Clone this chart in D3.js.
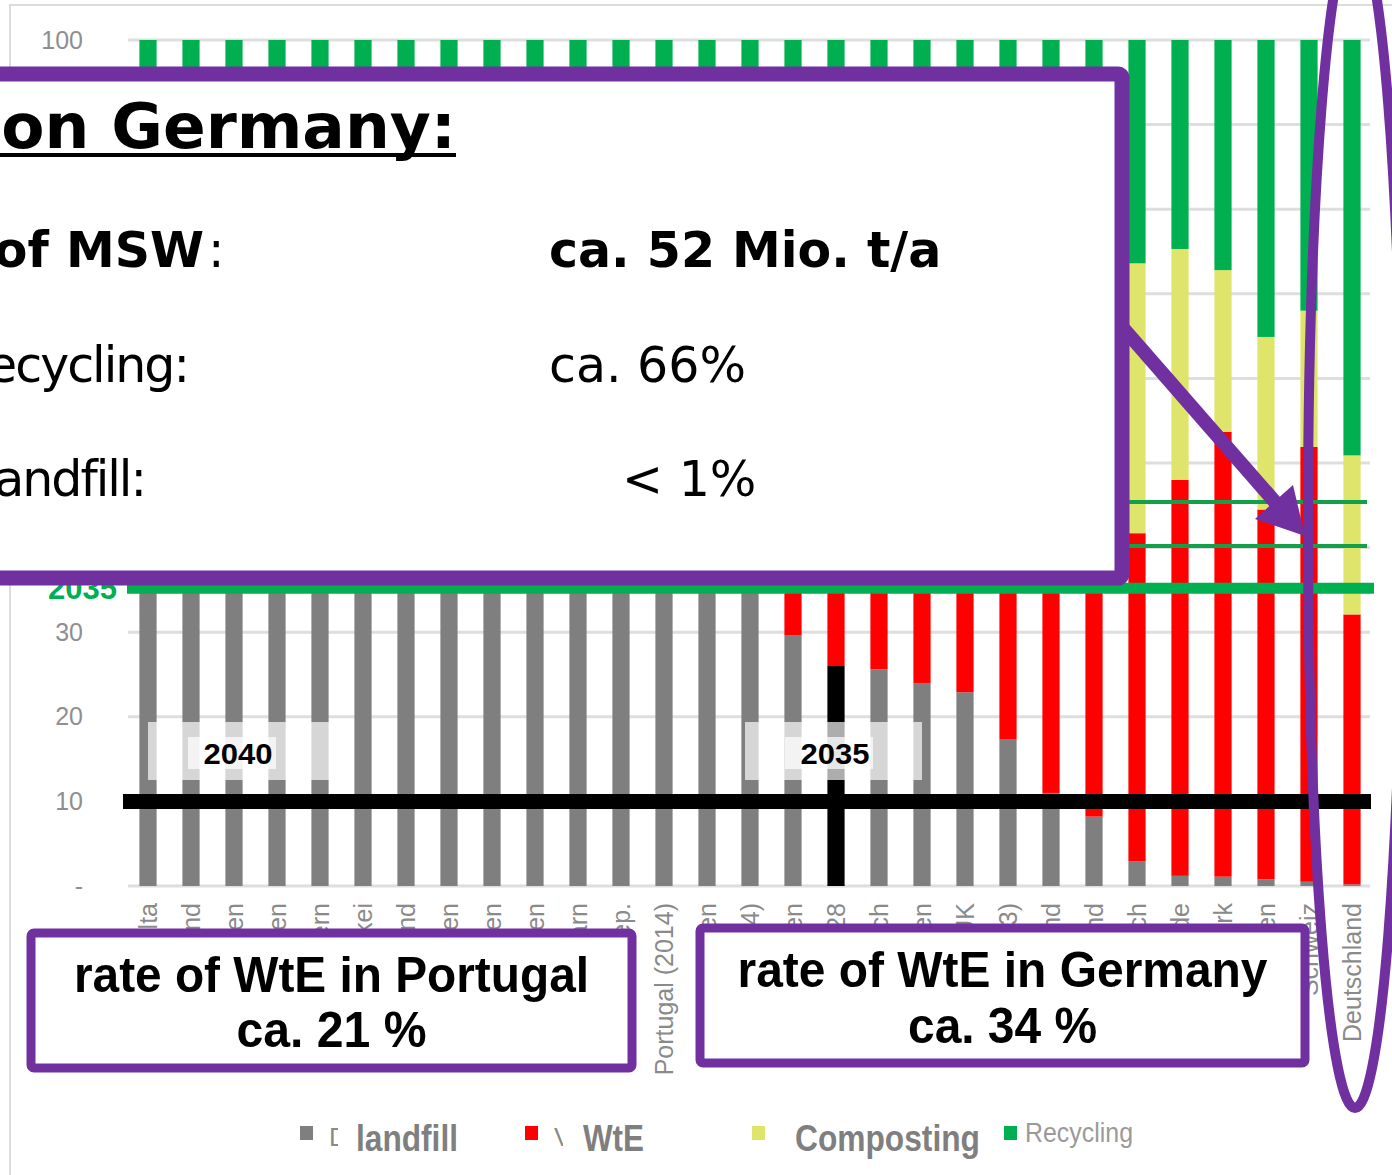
<!DOCTYPE html>
<html>
<head>
<meta charset="utf-8">
<script src="https://cdn.jsdelivr.net/npm/d3@7"></script>
<style>
  body { margin: 0; background: #fff; overflow: hidden; }
  svg { display: block; }
</style>
</head>
<body>
<script>
// treatment shares of municipal solid waste in %, bottom to top of each bar
const countries = ["Malta", "Griechenland", "Kroatien", "Rumänien", "Zypern", "Slowakei", "Lettland", "Bulgarien", "Spanien", "Litauen", "Ungarn", "Tschech. Rep.", "Portugal (2014)", "Polen", "Estland (2014)", "Italien", "EU-28", "Frankreich", "Slowenien", "UK", "Island (2013)", "Finnland", "Irland", "Österreich", "Niederlande", "Dänemark", "Schweden", "Schweiz", "Deutschland"];
const landfill   = [86, 82, 78, 77, 75, 66, 63, 62, 57, 52, 51, 50, 49, 44, 38, 29.6, 26, 25.6, 24, 22.9, 17.3, 11, 8.2, 2.9, 1.2, 1.1, 0.8, 0.5, 0.2];
const wte        = [0, 1, 0, 2, 0, 10, 0, 2, 12, 15, 13, 13, 21, 14, 30, 19, 27, 35, 20, 31, 45, 53, 45, 38.8, 46.8, 52.6, 43.7, 51.4, 31.9];
const composting = [5, 2, 3, 7, 8, 8, 7, 8, 17, 8, 7, 6, 14, 17, 5, 20, 16, 17, 18, 15, 7, 12, 10, 31.9, 27.3, 19.1, 20.4, 16.1, 18.8];
const recycling  = [9, 15, 19, 14, 17, 16, 30, 28, 14, 25, 29, 31, 16, 25, 27, 31.4, 31, 22.4, 38, 31.1, 30.7, 24, 36.8, 26.4, 24.7, 27.2, 35.1, 32, 49.1];

const yTicks = [0, 10, 20, 30, 40, 50, 60, 70, 80, 90, 100];
const targetLines = [35.2, 40.2, 45.4];   // green target lines
const limitLine = 10;                     // black 10 % landfill line
const legendLabels = ["landfill", "WtE", "Composting", "Recycling"];
const legendOriginal = ["Deponierung", "Verbrennung", "", ""];

const keys = ["landfill", "wte", "composting", "recycling"];
const colors = { landfill: "#7f7f7f", wte: "#ff0000", composting: "#dfe46b", recycling: "#00b050" };
const purple = "#7030a0";

const rows = countries.map((c, i) => ({
  country: c, landfill: landfill[i], wte: wte[i], composting: composting[i], recycling: recycling[i]
}));

const svg = d3.select("body").append("svg")
  .attr("width", 1392)
  .attr("height", 1175);

const x = d3.scaleBand().domain(countries).range([126.5, 1373.5]).paddingInner(0.6).paddingOuter(0.3);
const y = d3.scaleLinear().domain([0, 100]).range([886, 40]);

// outer frame of the chart
svg.append("path")
  .attr("d", "M10,1175V5H1392")
  .attr("fill", "none")
  .attr("stroke", "#dcdcdc")
  .attr("stroke-width", 2);

// gridlines
svg.append("g").selectAll("line")
  .data(yTicks)
  .join("line")
  .attr("x1", 128).attr("x2", 1370)
  .attr("y1", d => y(d)).attr("y2", d => y(d))
  .attr("stroke", "#dedede")
  .attr("stroke-width", 3);

// y axis labels
const yAxis = svg.append("g")
  .attr("transform", "translate(83,0)")
  .call(d3.axisLeft(y).tickValues(yTicks).tickSize(0).tickPadding(0)
    .tickFormat(d => d === 0 ? "-" : d));
yAxis.select(".domain").remove();
yAxis.selectAll("text")
  .attr("font-family", "Liberation Sans, Arial, sans-serif")
  .attr("font-size", 25)
  .attr("fill", "#8f8f8f");

// stacked bars
const series = d3.stack().keys(keys)(rows);
svg.append("g").selectAll("g")
  .data(series)
  .join("g")
  .each(function(s) {
    d3.select(this).selectAll("rect")
      .data(s)
      .join("rect")
      .attr("x", d => x(d.data.country))
      .attr("y", d => y(d[1]))
      .attr("width", x.bandwidth())
      .attr("height", d => y(d[0]) - y(d[1]))
      .attr("fill", d => (s.key === "landfill" && d.data.country === "EU-28") ? "#000" : colors[s.key]);
  });

// target lines
svg.append("g").selectAll("line")
  .data(targetLines)
  .join("line")
  .attr("x1", 127).attr("x2", (d, i) => i === 0 ? 1374 : 1367)
  .attr("y1", d => y(d)).attr("y2", d => y(d))
  .attr("stroke", (d, i) => i === 0 ? "#00b050" : "#12a04a")
  .attr("stroke-width", (d, i) => i === 0 ? 11 : 4);

svg.append("text")
  .attr("x", 117).attr("y", y(targetLines[0]) + 11)
  .attr("text-anchor", "end")
  .attr("font-family", "Liberation Sans, Arial, sans-serif")
  .attr("font-weight", "bold")
  .attr("font-size", 31)
  .attr("fill", "#00b050")
  .text("2035");

svg.append("line")
  .attr("x1", 123).attr("x2", 1371)
  .attr("y1", y(limitLine)).attr("y2", y(limitLine))
  .attr("stroke", "#000")
  .attr("stroke-width", 15);

// year labels on the 10 % line
const yearBoxes = [
  { label: "2040", x0: 148, x1: 330, tx: 238 },
  { label: "2035", x0: 745, x1: 922, tx: 835 }
];
yearBoxes.forEach(b => {
  svg.append("rect")
    .attr("x", b.x0).attr("y", 722)
    .attr("width", b.x1 - b.x0).attr("height", 58)
    .attr("fill", "#fff").attr("opacity", 0.68);
  svg.append("rect")
    .attr("x", b.tx - 50).attr("y", 737)
    .attr("width", 88).attr("height", 32)
    .attr("fill", "#fff").attr("opacity", 0.7);
  svg.append("text")
    .attr("x", b.tx).attr("y", 764)
    .attr("text-anchor", "middle")
    .attr("font-family", "Liberation Sans Narrow, Liberation Sans, Arial, sans-serif")
    .attr("font-weight", "bold")
    .attr("font-size", 30)
    .attr("textLength", 69)
    .attr("lengthAdjust", "spacingAndGlyphs")
    .attr("fill", "#000")
    .text(b.label);
});

// category labels
svg.append("g").selectAll("text")
  .data(countries)
  .join("text")
  .attr("transform", d => `translate(${x(d) + x.bandwidth() / 2},903) rotate(-90)`)
  .attr("dy", "0.35em")
  .attr("text-anchor", "end")
  .attr("font-family", "Liberation Sans, Arial, sans-serif")
  .attr("font-size", 25)
  .attr("fill", "#8a8a8a")
  .text(d => d);

// legend
const legendX = [300, 525, 752, 1004];
const legend = svg.append("g").selectAll("g")
  .data(keys)
  .join("g");
legend.append("rect")
  .attr("x", (d, i) => legendX[i]).attr("y", 1126)
  .attr("width", 13).attr("height", 14)
  .attr("fill", d => colors[d]);
legend.append("text")
  .attr("x", (d, i) => legendX[i] + 29).attr("y", 1146)
  .attr("font-family", "Liberation Sans, Arial, sans-serif")
  .attr("font-size", 26)
  .attr("fill", "#8a8a8a")
  .text((d, i) => legendOriginal[i]);
// replacement labels pasted over the original legend text
const newLabels = [
  { x: 338, w: 140, tx: 356, len: 102, size: 36, bold: true, base: 1151 },
  { x: 563, w: 170, tx: 583, len: 61, size: 36, bold: true, base: 1151 },
  { x: 778, w: 215, tx: 795, len: 185, size: 36, bold: true, base: 1151 },
  { x: 1022, w: 0, tx: 1025, len: 108, size: 27, bold: false, base: 1142 }
];
newLabels.forEach((l, i) => {
  if (l.w) svg.append("rect").attr("x", l.x).attr("y", 1110).attr("width", l.w).attr("height", 50).attr("fill", "#fff");
  svg.append("text")
    .attr("x", l.tx).attr("y", l.base)
    .attr("font-family", l.bold ? "Liberation Sans Narrow, Liberation Sans, Arial, sans-serif" : "Liberation Sans, Arial, sans-serif")
    .attr("font-weight", l.bold ? "bold" : "normal")
    .attr("font-size", l.size)
    .attr("textLength", l.len)
    .attr("lengthAdjust", "spacingAndGlyphs")
    .attr("fill", l.bold ? "#7f7f7f" : "#9a9a9a")
    .text(legendLabels[i]);
});

// facts box
svg.append("rect")
  .attr("x", -40).attr("y", 74)
  .attr("width", 1162).attr("height", 504)
  .attr("rx", 4)
  .attr("fill", "#fff")
  .attr("stroke", purple)
  .attr("stroke-width", 15);

const boxFont = "DejaVu Sans, Verdana, sans-serif";
svg.append("text")
  .attr("x", 456).attr("y", 148)
  .attr("text-anchor", "end")
  .attr("font-family", boxFont)
  .attr("font-weight", "bold")
  .attr("font-size", 63)
  .attr("fill", "#000")
  .text("Facts on Germany:");
svg.append("line")
  .attr("x1", -10).attr("x2", 456)
  .attr("y1", 155).attr("y2", 155)
  .attr("stroke", "#000").attr("stroke-width", 4);

svg.append("text")
  .attr("x", 204).attr("y", 267)
  .attr("text-anchor", "end")
  .attr("font-family", boxFont).attr("font-weight", "bold").attr("font-size", 49)
  .text("Amount of MSW");
svg.append("text")
  .attr("x", 208).attr("y", 267)
  .attr("font-family", boxFont).attr("font-size", 49)
  .text(":");
svg.append("text")
  .attr("x", 549).attr("y", 267)
  .attr("font-family", boxFont).attr("font-weight", "bold").attr("font-size", 49)
  .text("ca. 52 Mio. t/a");

svg.append("text")
  .attr("x", 188).attr("y", 382)
  .attr("text-anchor", "end")
  .attr("font-family", boxFont).attr("font-size", 49)
  .attr("letter-spacing", -2)
  .text("Recycling:");
svg.append("text")
  .attr("x", 549).attr("y", 382)
  .attr("font-family", boxFont).attr("font-size", 49)
  .text("ca. 66%");

svg.append("text")
  .attr("x", 145).attr("y", 496)
  .attr("text-anchor", "end")
  .attr("font-family", boxFont).attr("font-size", 49)
  .attr("letter-spacing", -2)
  .text("Landfill:");
svg.append("text")
  .attr("x", 622).attr("y", 496)
  .attr("font-family", boxFont).attr("font-size", 49)
  .text("< 1%");

// WtE rate boxes
const rateBoxes = [
  { x0: 31, x1: 632, y0: 933, y1: 1068, l1: "rate of WtE in Portugal", w1: 515, b1: 992, l2: "ca. 21 %", w2: 190, b2: 1047 },
  { x0: 700, x1: 1305, y0: 928, y1: 1063, l1: "rate of WtE in Germany", w1: 530, b1: 987, l2: "ca. 34 %", w2: 189, b2: 1043 }
];
rateBoxes.forEach(b => {
  svg.append("rect")
    .attr("x", b.x0).attr("y", b.y0)
    .attr("width", b.x1 - b.x0).attr("height", b.y1 - b.y0)
    .attr("rx", 3)
    .attr("fill", "#fff")
    .attr("stroke", purple)
    .attr("stroke-width", 9);
  const cx = (b.x0 + b.x1) / 2;
  [[b.l1, b.w1, b.b1], [b.l2, b.w2, b.b2]].forEach(([t, w, base]) => {
    svg.append("text")
      .attr("x", cx).attr("y", base)
      .attr("text-anchor", "middle")
      .attr("font-family", "Liberation Sans Narrow, Liberation Sans, Arial, sans-serif")
      .attr("font-weight", "bold")
      .attr("font-size", 50)
      .attr("textLength", w)
      .attr("lengthAdjust", "spacingAndGlyphs")
      .attr("fill", "#000")
      .text(t);
  });
});

// arrow towards Germany
svg.append("line")
  .attr("x1", 1124).attr("y1", 329)
  .attr("x2", 1282).attr("y2", 510)
  .attr("stroke", purple)
  .attr("stroke-width", 14);
svg.append("polygon")
  .attr("points", "1305,536 1255,519 1293,485")
  .attr("fill", purple);

// ellipse around Deutschland
svg.append("ellipse")
  .attr("cx", 1355).attr("cy", 520)
  .attr("rx", 47).attr("ry", 588)
  .attr("fill", "none")
  .attr("stroke", purple)
  .attr("stroke-width", 10);
</script>
</body>
</html>
